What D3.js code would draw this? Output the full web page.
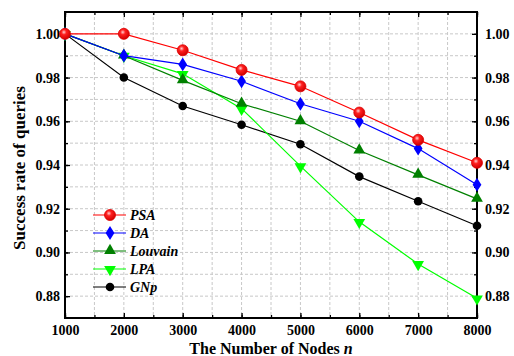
<!DOCTYPE html>
<html>
<head>
<meta charset="utf-8">
<script src="https://cdn.jsdelivr.net/npm/d3@7"></script>
<style>
    body { margin: 0; background: #fff; }
    svg text { font-family: "Liberation Serif", "Times New Roman", serif; font-weight: bold; }
</style>
</head>
<body>
<div id="chart"></div>
<script>

var nodes = [1000, 2000, 3000, 4000, 5000, 6000, 7000, 8000];

var psa     = [1.000, 1.000, 0.9925, 0.9835, 0.976, 0.964, 0.9515, 0.941],
    da      = [1.000, 0.990, 0.986, 0.9783, 0.968, 0.960, 0.9475, 0.931],
    louvain = [1.000, 0.990, 0.9787, 0.968, 0.960, 0.9466, 0.9355, 0.9245],
    lpa     = [1.000, 0.990, 0.9817, 0.9658, 0.9395, 0.914, 0.8947, 0.879],
    gnp     = [1.000, 0.980, 0.967, 0.9584, 0.9495, 0.9347, 0.9234, 0.9122];

var series_names = ["PSA", "DA", "Louvain", "LPA", "GNp"];
var y_ticks = [0.88, 0.90, 0.92, 0.94, 0.96, 0.98, 1.00];

window.onload = function() {

    var width = 514,
        height = 356,
        margin = {left: 65, right: 37, top: 12, bottom: 38};

    var serif = "'Liberation Serif', 'Times New Roman', serif";

    var svg = d3.select("#chart").append("svg")
        .attr("width", width)
        .attr("height", height);

    var x = d3.scaleLinear()
        .domain([1000, 8000])
        .range([margin.left, width - margin.right]);

    var y = d3.scaleLinear()
        .domain([0.87, 1.01])
        .range([height - margin.bottom, margin.top]);

    var series = [
        {name: series_names[0], values: psa, color: "#ff0000", shape: "sphere"},
        {name: series_names[1], values: da, color: "#0000ff", shape: "diamond"},
        {name: series_names[2], values: louvain, color: "#008000", shape: "up"},
        {name: series_names[3], values: lpa, color: "#00ff00", shape: "down"},
        {name: series_names[4], values: gnp, color: "#000000", shape: "circle"}
    ];

    // gradient for the shiny red balls
    var grad = svg.append("defs").append("radialGradient")
        .attr("id", "ball")
        .attr("cx", "40%").attr("cy", "35%").attr("r", "65%");
    grad.append("stop").attr("offset", "0%").attr("stop-color", "#ffd0d0");
    grad.append("stop").attr("offset", "35%").attr("stop-color", "#ff2020");
    grad.append("stop").attr("offset", "100%").attr("stop-color", "#d00000");

    // grid, major and minor
    var x_grid = d3.range(1000, 8001, 500),
        minor_y = d3.range(0, 13).map(function(i) { return 0.88 + i * 0.01; });

    var grid = svg.append("g").attr("class", "grid");
    grid.selectAll("line.gx")
        .data(x_grid.slice(1, -1))
        .enter().append("line")
        .attr("x1", function(d) { return x(d); })
        .attr("x2", function(d) { return x(d); })
        .attr("y1", y.range()[1])
        .attr("y2", y.range()[0])
        .style("stroke", "#c8c8c8")
        .style("stroke-dasharray", "3,2")
        .style("stroke-width", 1);
    grid.selectAll("line.gy")
        .data(minor_y)
        .enter().append("line")
        .attr("x1", x.range()[0])
        .attr("x2", x.range()[1])
        .attr("y1", function(d) { return y(d); })
        .attr("y2", function(d) { return y(d); })
        .style("stroke", "#c8c8c8")
        .style("stroke-dasharray", "3,2")
        .style("stroke-width", 1);

    // axes with inward ticks
    function add_axis(axis, tx, ty, labels) {
        var g = svg.append("g")
            .attr("transform", "translate(" + tx + "," + ty + ")")
            .call(axis)
            .attr("font-family", serif)
            .attr("font-size", null);
        g.select(".domain").remove();
        g.selectAll("line").style("stroke", "#000").style("stroke-width", 1.3);
        g.selectAll("text")
            .style("font-family", serif)
            .style("font-weight", "bold")
            .style("font-size", "14px")
            .style("display", labels ? null : "none");
        return g;
    }

    var h = y.range()[0];
    add_axis(d3.axisBottom(x).tickValues(nodes).tickSize(-5).tickPadding(7).tickFormat(d3.format("d")), 0, h, true);
    add_axis(d3.axisBottom(x).tickValues(x_grid).tickSize(-3).tickFormat(""), 0, h, false);
    add_axis(d3.axisTop(x).tickValues(nodes).tickSize(-5).tickFormat(""), 0, margin.top, false);
    add_axis(d3.axisTop(x).tickValues(x_grid).tickSize(-3).tickFormat(""), 0, margin.top, false);

    add_axis(d3.axisLeft(y).tickValues(y_ticks).tickSize(-5).tickPadding(5).tickFormat(d3.format(".2f")), x.range()[0], 0, true);
    add_axis(d3.axisLeft(y).tickValues(minor_y).tickSize(-3).tickFormat(""), x.range()[0], 0, false);
    add_axis(d3.axisRight(y).tickValues(y_ticks).tickSize(-5).tickPadding(8).tickFormat(d3.format(".2f")), x.range()[1], 0, true);
    add_axis(d3.axisRight(y).tickValues(minor_y).tickSize(-3).tickFormat(""), x.range()[1], 0, false);

    // frame
    svg.append("rect")
        .attr("x", x.range()[0])
        .attr("y", margin.top)
        .attr("width", x.range()[1] - x.range()[0])
        .attr("height", h - margin.top)
        .style("fill", "none")
        .style("stroke", "#000")
        .style("stroke-width", 2);

    var line = d3.line()
        .x(function(d, i) { return x(nodes[i]); })
        .y(function(d) { return y(d); });

    function draw_marker(g, shape, color, cx, cy) {
        if (shape === "sphere") {
            g.append("circle").attr("cx", cx).attr("cy", cy).attr("r", 5.5)
                .style("fill", "url(#ball)").style("stroke", "#e00000").style("stroke-width", 0.8);
        } else if (shape === "circle") {
            g.append("circle").attr("cx", cx).attr("cy", cy).attr("r", 4.3)
                .style("fill", color);
        } else if (shape === "diamond") {
            g.append("path").attr("d", d3.symbol().type(d3.symbolDiamond).size(55))
                .attr("transform", "translate(" + cx + "," + cy + ") scale(1.1,1)")
                .style("fill", color);
        } else if (shape === "up") {
            g.append("path").attr("d", d3.symbol().type(d3.symbolTriangle).size(60))
                .attr("transform", "translate(" + cx + "," + (cy - 0.5) + ")")
                .style("fill", color);
        } else {
            g.append("path").attr("d", d3.symbol().type(d3.symbolTriangle).size(60))
                .attr("transform", "translate(" + cx + "," + (cy + 0.5) + ") rotate(180)")
                .style("fill", color);
        }
    }

    // draw in reverse so PSA sits on top
    series.slice().reverse().forEach(function(s) {
        var g = svg.append("g");
        g.append("path")
            .datum(s.values)
            .attr("d", line)
            .style("fill", "none")
            .style("stroke", s.color)
            .style("stroke-width", 1.2);
        s.values.forEach(function(v, i) {
            draw_marker(g, s.shape, s.color, x(nodes[i]), y(v));
        });
    });

    // legend
    var legend = svg.append("g");
    series.forEach(function(s, i) {
        var ly = 215 + i * 18;
        legend.append("line")
            .attr("x1", 93).attr("x2", 126)
            .attr("y1", ly).attr("y2", ly)
            .style("stroke", s.color)
            .style("stroke-width", 1.2);
        draw_marker(legend, s.shape, s.color, 110, ly);
        legend.append("text")
            .attr("x", 130).attr("y", ly + 5)
            .style("font-size", "14px")
            .style("font-style", "italic")
            .text(s.name);
    });

    // axis titles
    var xt = svg.append("text")
        .attr("x", (x.range()[0] + x.range()[1]) / 2)
        .attr("y", 354)
        .attr("text-anchor", "middle")
        .style("font-size", "16px");
    xt.append("tspan").text("The Number of Nodes ");
    xt.append("tspan").style("font-style", "italic").text("n");

    svg.append("text")
        .attr("transform", "translate(25," + ((margin.top + h) / 2 + 3) + ") rotate(-90)")
        .attr("text-anchor", "middle")
        .style("font-size", "17px")
        .text("Success rate of queries");
};
</script>
</body>
</html>
